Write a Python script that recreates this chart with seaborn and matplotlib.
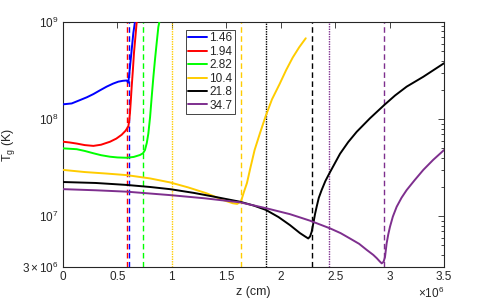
import numpy as np
import pandas as pd
import matplotlib
matplotlib.use("Agg")
import matplotlib.pyplot as plt
import seaborn as sns
from matplotlib.ticker import FixedLocator, FuncFormatter, LogLocator, NullFormatter

# curve data (z in units of 1e6 cm, T in K)
labels = ["1.46", "1.94", "2.82", "10.4", "21.8", "34.7"]
colors = ["#0000ff", "#ff0000", "#00ff00", "#ffcc00", "#000000", "#7e2f8e"]

z_146 = [0, 0.08, 0.156, 0.22, 0.279, 0.34, 0.401, 0.46, 0.508, 0.55, 0.585, 0.6, 0.61, 0.622, 0.634, 0.646,
         0.661, 0.675]
T_146 = [1.42e8, 1.45e8, 1.57e8, 1.68e8, 1.81e8, 1.98e8, 2.16e8, 2.32e8, 2.43e8, 2.48e8, 2.5e8, 2.37e8, 3.0e8,
         4.1e8, 5.6e8, 7.7e8, 1.0e9, 1.4e9]

z_194 = [0, 0.06, 0.126, 0.2, 0.279, 0.35, 0.432, 0.49, 0.539, 0.575, 0.6, 0.608, 0.615, 0.623, 0.631, 0.642,
         0.652, 0.665, 0.677, 0.69]
T_194 = [5.85e7, 5.75e7, 5.6e7, 5.4e7, 5.3e7, 5.45e7, 5.85e7, 6.3e7, 6.9e7, 7.6e7, 8.4e7, 9.6e7, 1.15e8, 1.55e8,
         2.16e8, 3.2e8, 4.8e8, 7.0e8, 1.0e9, 1.4e9]

z_282 = [0, 0.126, 0.2, 0.279, 0.35, 0.432, 0.5, 0.585, 0.65, 0.707, 0.735, 0.753, 0.77, 0.784, 0.8, 0.815,
         0.83, 0.845, 0.86, 0.876, 0.885, 0.9]
T_282 = [5.0e7, 4.9e7, 4.7e7, 4.45e7, 4.25e7, 4.1e7, 4.03e7, 4.0e7, 4.08e7, 4.27e7, 4.45e7, 4.8e7, 5.7e7, 7.1e7,
         1.05e8, 1.7e8, 2.7e8, 4.1e8, 6.0e8, 8.9e8, 1.0e9, 1.3e9]

z_104 = [0, 0.2, 0.4, 0.585, 0.8, 0.983, 1.15, 1.32, 1.47, 1.56, 1.6, 1.635, 1.66, 1.69, 1.72, 1.76, 1.81,
         1.86, 1.92, 1.99, 2.05, 2.11, 2.17, 2.23]
T_104 = [3.0e7, 2.85e7, 2.75e7, 2.65e7, 2.45e7, 2.23e7, 1.98e7, 1.72e7, 1.47e7, 1.36e7, 1.34e7, 1.42e7, 1.75e7,
         2.2e7, 3.1e7, 4.8e7, 7.2e7, 1.06e8, 1.6e8, 2.3e8, 3.2e8, 4.3e8, 5.5e8, 6.8e8]

z_218 = [0, 0.3, 0.585, 0.8, 0.983, 1.2, 1.4, 1.626, 1.75, 1.865, 1.98, 2.085, 2.177, 2.223, 2.253, 2.27, 2.284,
         2.3, 2.315, 2.33, 2.35, 2.376, 2.41, 2.446, 2.545, 2.62, 2.698, 2.82, 2.952, 3.05, 3.157, 3.31, 3.5]
T_218 = [2.25e7, 2.2e7, 2.1e7, 2.0e7, 1.9e7, 1.74e7, 1.58e7, 1.41e7, 1.29e7, 1.16e7, 9.8e6, 8.1e6, 6.7e6, 6.2e6,
         5.9e6, 6.2e6, 6.9e6, 8.5e6, 1.05e7, 1.25e7, 1.55e7, 1.86e7, 2.3e7, 2.75e7, 4.4e7, 5.8e7, 7.4e7, 1.02e8,
         1.4e8, 1.75e8, 2.16e8, 2.73e8, 3.76e8]

z_347 = [0, 0.3, 0.585, 0.983, 1.3, 1.626, 1.865, 2.085, 2.269, 2.453, 2.55, 2.636, 2.72, 2.79, 2.85, 2.882,
         2.91, 2.928, 2.945, 2.958, 2.973, 2.988, 3.004, 3.03, 3.065, 3.11, 3.157, 3.23, 3.31, 3.4, 3.5]
T_347 = [1.9e7, 1.85e7, 1.79e7, 1.65e7, 1.53e7, 1.39e7, 1.21e7, 1.05e7, 9.0e6, 7.5e6, 6.7e6, 5.9e6, 5.2e6,
         4.5e6, 4.0e6, 3.7e6, 3.42e6, 3.27e6, 3.4e6, 3.8e6, 5.25e6, 6.5e6, 7.8e6, 9.9e6, 1.25e7, 1.55e7,
         1.86e7, 2.35e7, 3.0e7, 3.8e7, 4.8e7]

# vertical marker lines (z in 1e6 cm)
vline_z = [0.59, 0.607, 0.733, 1.0, 1.635, 1.865, 2.284, 2.443, 2.952]
vline_case = ["1.94", "1.46", "2.82", "10.4", "10.4", "21.8", "21.8", "34.7", "34.7"]
vline_style = ["--", "--", "--", ":", "--", ":", "--", ":", "--"]

zs = [z_146, z_194, z_282, z_104, z_218, z_347]
Ts = [T_146, T_194, T_282, T_104, T_218, T_347]
df = pd.concat([pd.DataFrame({"z": np.array(z) * 1e6, "T": T, "case": lab})
                for z, T, lab in zip(zs, Ts, labels)], ignore_index=True)

sns.set_style("white")
plt.rcParams["font.family"] = ["Liberation Sans", "DejaVu Sans"]
plt.rcParams["mathtext.fontset"] = "custom"
plt.rcParams["mathtext.rm"] = "Liberation Sans"
plt.rcParams["mathtext.it"] = "Liberation Sans:italic"
axcol = "#262626"

fig = plt.figure(figsize=(4.91, 3.01), dpi=100)
ax = fig.add_axes([63 / 491, 1 - 267 / 301, 381 / 491, 245 / 301])

palette = dict(zip(labels, colors))
for z, style, lab in zip(vline_z, vline_style, vline_case):
    c = palette[lab]
    if style == "--":
        ax.axvline(z * 1e6, color=c, lw=1.0, ls=(0, (4, 2.5)), zorder=1)
    else:
        ax.axvline(z * 1e6, color=c, lw=1.0, ls=(0, (1, 0.8)), zorder=1)

sns.lineplot(data=df, x="z", y="T", hue="case", palette=palette, estimator=None,
             sort=False, lw=1.4, ax=ax, zorder=3)

ax.set_yscale("log")
ax.set_xlim(0, 3.5e6)
ax.set_ylim(3e6, 1e9)

ax.xaxis.set_major_locator(FixedLocator(np.arange(0, 3.51e6, 0.5e6)))
ax.xaxis.set_major_formatter(FuncFormatter(lambda v, p: f"{v / 1e6:g}"))
ax.yaxis.set_major_locator(FixedLocator([3e6, 1e7, 1e8, 1e9]))
ax.yaxis.set_major_formatter(FuncFormatter(
    lambda v, p: r"$3\times10^{6}$" if abs(v - 3e6) < 1 else rf"$10^{{{int(round(np.log10(v)))}}}$"))
ax.yaxis.set_minor_locator(LogLocator(base=10, subs=np.arange(2, 10), numticks=20))
ax.yaxis.set_minor_formatter(NullFormatter())

ax.tick_params(which="both", direction="in", top=True, right=True, colors=axcol,
               labelsize=8.5, width=0.6, pad=3)
ax.tick_params(which="major", length=4)
ax.tick_params(which="minor", length=2.5)
for s in ax.spines.values():
    s.set_color(axcol)
    s.set_linewidth(0.8)

ax.set_xlabel("z (cm)", fontsize=9, color=axcol, labelpad=2)
ax.set_ylabel(r"T$_\mathrm{g}$ (K)", fontsize=9, color=axcol, labelpad=4)
ax.text(1.0, -0.075, r"$\times10^{6}$", transform=ax.transAxes, ha="right", va="top",
        fontsize=8.5, color=axcol)

handles = [plt.Line2D([], [], color=c, lw=1.4) for c in colors]
leg = ax.legend(handles, labels, loc="upper left", bbox_to_anchor=(0.323, 0.967),
                fontsize=8.5, frameon=True, fancybox=False, framealpha=1,
                edgecolor=axcol, borderpad=0.2, labelspacing=0.12, handlelength=1.6,
                handletextpad=0.15, borderaxespad=0)
leg.get_frame().set_linewidth(0.6)

fig.savefig("out.png", dpi=100)
